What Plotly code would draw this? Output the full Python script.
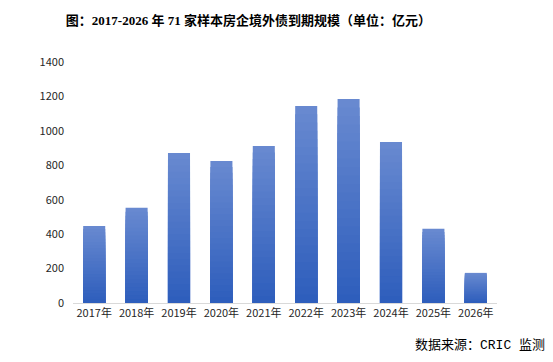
import plotly.graph_objects as go

categories = ["2017年", "2018年", "2019年", "2020年", "2021年", "2022年", "2023年", "2024年", "2025年", "2026年"]
values = [448, 553, 871, 825, 912, 1144, 1185, 935, 431, 175]
y_ticks = [0, 200, 400, 600, 800, 1000, 1200, 1400]

title_text = "图：2017-2026 年 71 家样本房企境外债到期规模（单位：亿元）"
source_text = "数据来源：CRIC 监测"

fig = go.Figure()

# vertical gradient: overlay bars from full height (light) down to short (dark)
N = 24
top_rgb = (104, 137, 208)
bot_rgb = (46, 94, 188)
for k in range(N):
    frac = 1 - k / N
    t = k / (N - 1)
    r = round(top_rgb[0] + (bot_rgb[0] - top_rgb[0]) * t)
    g = round(top_rgb[1] + (bot_rgb[1] - top_rgb[1]) * t)
    b = round(top_rgb[2] + (bot_rgb[2] - top_rgb[2]) * t)
    fig.add_trace(go.Bar(
        x=categories,
        y=[v * frac for v in values],
        marker=dict(color=f"rgb({r},{g},{b})", line=dict(width=0)),
        hoverinfo="skip" if k else None,
        showlegend=False,
    ))

# page body adds an 8px offset; figure sized so the 553x362 window shows it fully
fig.update_layout(
    width=545, height=354,
    barmode="overlay",
    bargap=0.48,
    plot_bgcolor="white",
    paper_bgcolor="white",
    margin=dict(l=65, r=56, t=54, b=59),
    font=dict(family="Noto Sans CJK SC, Noto Sans, sans-serif", size=11, color="#404040"),
    title=dict(
        text="<b>" + title_text + "</b>",
        xref="container", x=0.441, xanchor="center",
        yref="container", y=0.966, yanchor="middle",
        font=dict(family="Liberation Serif, Noto Sans CJK SC, serif", size=13, color="#000000"),
    ),
    xaxis=dict(
        showline=True, linecolor="#d9d9d9", linewidth=1,
        ticks="", showgrid=False,
        tickfont=dict(size=11, color="#262626"),
    ),
    yaxis=dict(
        range=[0, 1400], tickvals=y_ticks,
        showgrid=False, zeroline=False, showline=False,
        ticks="", ticklabelstandoff=8,
        tickfont=dict(size=11, color="#262626"),
    ),
    annotations=[dict(
        text=source_text, xref="paper", yref="paper",
        x=1.118, y=-0.178, xanchor="right", yanchor="middle",
        showarrow=False,
        font=dict(family="Liberation Mono, Noto Sans CJK SC, monospace", size=13, color="#000000"),
    )],
)

fig.write_html("out.html")
